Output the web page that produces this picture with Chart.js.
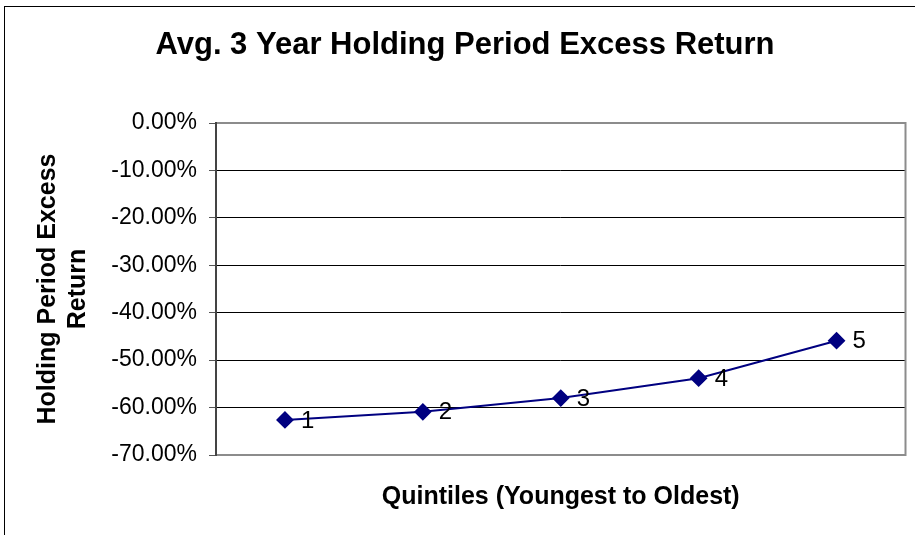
<!DOCTYPE html>
<html lang="en">
<head>
    <meta charset="UTF-8">
    <title>Avg. 3 Year Holding Period Excess Return</title>
    <script src="https://cdn.jsdelivr.net/npm/chart.js@4.4.0/dist/chart.umd.min.js"></script>
    <style>
        html, body {
            margin: 0;
            padding: 0;
            background: #fff;
        }
        #box {
            width: 915px;
            height: 535px;
        }
    </style>
</head>
<body>
    <div id="box">
        <canvas id="grafico"></canvas>
    </div>

    <script>
        // dados
        const quintis = ['1', '2', '3', '4', '5'];
        const retornoExcesso = [-62.6, -60.9, -58.0, -53.8, -45.9];
        const eixoMin = -70;
        const eixoMax = 0;
        const passo = 10;

        const tituloPrincipal = 'Avg. 3 Year Holding Period Excess Return';
        const tituloY = ['Holding Period Excess', 'Return'];
        const tituloX = 'Quintiles (Youngest to Oldest)';

        const fonte = '"Liberation Sans", Arial, sans-serif';

        // moldura, titulo e rotulos dos pontos
        const desenhoExtra = {
            id: 'desenhoExtra',
            beforeDraw(chart) {
                const ctx = chart.ctx;
                ctx.save();
                ctx.strokeStyle = '#000';
                ctx.lineWidth = 1;
                ctx.strokeRect(4.5, 6.5, 1000, 1000);
                ctx.restore();
            },
            afterDraw(chart) {
                const ctx = chart.ctx;
                const a = chart.chartArea;
                ctx.save();
                // borda da area do grafico
                ctx.strokeStyle = '#8c8c8c';
                ctx.lineWidth = 2;
                ctx.beginPath();
                ctx.moveTo(a.left, a.top);
                ctx.lineTo(a.right, a.top);
                ctx.lineTo(a.right, a.bottom);
                ctx.lineTo(a.left, a.bottom);
                ctx.stroke();
                ctx.strokeStyle = '#444';
                ctx.beginPath();
                ctx.moveTo(a.left, a.top - 1);
                ctx.lineTo(a.left, a.bottom + 1);
                ctx.stroke();

                // titulo
                ctx.fillStyle = '#000';
                ctx.font = 'bold 31px ' + fonte;
                ctx.textAlign = 'center';
                ctx.textBaseline = 'middle';
                ctx.fillText(tituloPrincipal, 465, 45);

                // rotulos 1..5 ao lado dos pontos
                const meta = chart.getDatasetMeta(0);
                ctx.font = '24px ' + fonte;
                ctx.textAlign = 'left';
                meta.data.forEach((p, i) => {
                    ctx.fillText(quintis[i], p.x + 16, p.y + 1);
                });
                ctx.restore();
            }
        };

        const ctx = document.getElementById('grafico').getContext('2d');

        const grafico = new Chart(ctx, {
            type: 'line',
            data: {
                labels: quintis,
                datasets: [{
                    data: retornoExcesso,
                    borderColor: '#000080',
                    backgroundColor: '#000080',
                    borderWidth: 2,
                    pointStyle: 'rectRot',
                    pointRadius: 7.5,
                    pointHoverRadius: 7.5,
                    fill: false,
                    tension: 0
                }]
            },
            options: {
                responsive: true,
                maintainAspectRatio: false,
                animation: false,
                layout: {
                    padding: { top: 123, right: 9, bottom: 0, left: 0 }
                },
                plugins: {
                    legend: { display: false },
                    tooltip: { enabled: false }
                },
                scales: {
                    x: {
                        offset: true,
                        grid: { display: false, drawTicks: false },
                        border: { display: false },
                        ticks: { display: false },
                        title: {
                            display: true,
                            text: tituloX,
                            color: '#000',
                            font: { family: fonte, size: 25, weight: 'bold', lineHeight: 1.2 },
                            padding: { top: 0, bottom: 23 }
                        },
                        afterFit(scale) {
                            scale.height = 80;
                        }
                    },
                    y: {
                        min: eixoMin,
                        max: eixoMax,
                        border: { display: false },
                        grid: {
                            color: '#000',
                            lineWidth: 1,
                            tickLength: 7,
                            tickColor: '#555'
                        },
                        ticks: {
                            stepSize: passo,
                            padding: 12,
                            color: '#000',
                            font: { family: fonte, size: 23 },
                            callback: (v) => v.toFixed(2) + '%'
                        },
                        title: {
                            display: true,
                            text: tituloY,
                            color: '#000',
                            font: { family: fonte, size: 25, weight: 'bold', lineHeight: 1.2 },
                            padding: { top: 33, bottom: 0 }
                        },
                        afterFit(scale) {
                            scale.width = 216;
                        }
                    }
                }
            },
            plugins: [desenhoExtra]
        });
    </script>
</body>
</html>
